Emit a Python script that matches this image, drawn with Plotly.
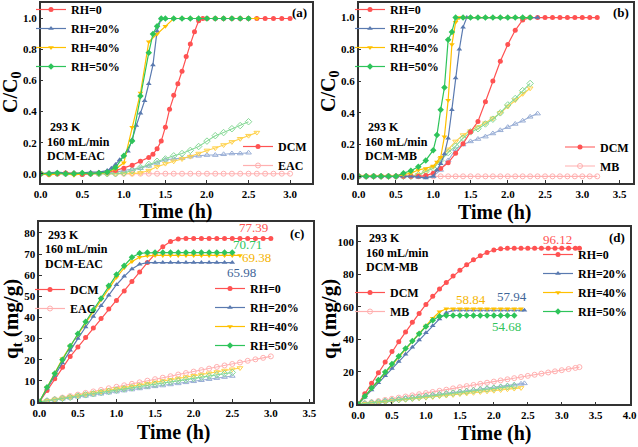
import plotly.graph_objects as go

W, H = 638, 447
FONT = "Liberation Serif"

def PX(x):
    return x / W

def PY(y):
    return 1 - y / H

# ---------------- time grid (h) ----------------
T = [0.0, 0.1, 0.2, 0.3, 0.4, 0.5, 0.6, 0.7, 0.8, 0.9, 1.0, 1.1, 1.2, 1.3, 1.4, 1.5, 1.6,
     1.7, 1.8, 1.9, 2.0, 2.1, 2.2, 2.3, 2.4, 2.5, 2.6, 2.7, 2.8, 2.9, 3.0, 3.1, 3.2]

# ---------------- panel (a) DCM-EAC, C/C0 ----------------
A_T_RH0 = [0.0, 0.1, 0.2, 0.3, 0.4, 0.5, 0.6, 0.7, 0.8, 0.9, 1.0, 1.1, 1.2, 1.3,
           1.35, 1.4, 1.45, 1.5, 1.55, 1.6, 1.65, 1.7, 1.75, 1.8, 1.85, 1.9, 1.95,
           2.0, 2.1, 2.2, 2.3, 2.4, 2.5, 2.6, 2.7, 2.8, 2.9, 3.0]
A_DCM_RH0 = [0, -0.005, 0, 0.005, 0, -0.005, 0, 0.005, 0.01, 0.02, 0.035, 0.055, 0.08, 0.105,
             0.125, 0.16, 0.21, 0.30, 0.415, 0.505, 0.58, 0.66, 0.755, 0.835, 0.915, 0.985, 1.0,
             1.0, 1.0, 1.0, 1.0, 1.0, 1.0, 1.0, 1.0, 1.0, 1.0, 1.0]
A_T_RH20 = [0.0, 0.1, 0.2, 0.3, 0.4, 0.5, 0.6, 0.7, 0.8,
            0.85, 0.9, 0.95, 1.0, 1.05, 1.1, 1.15, 1.2, 1.25, 1.3, 1.35, 1.4, 1.45, 1.5,
            1.6, 1.7, 1.8, 1.9, 2.0, 2.1, 2.2, 2.3, 2.4, 2.5]
A_DCM_RH20 = [0, 0.005, 0.01, 0.005, 0, 0.005, 0.01, 0.01, 0.02,
              0.035, 0.06, 0.09, 0.115, 0.145, 0.22, 0.31, 0.39, 0.47, 0.58, 0.70, 0.92, 1.0, 1.0,
              1.0, 1.0, 1.0, 1.0, 1.0, 1.0, 1.0, 1.0, 1.0, 1.0]
A_T_RH40 = [0.0, 0.1, 0.2, 0.3, 0.4, 0.5, 0.6, 0.7, 0.8,
            0.9, 1.0, 1.1, 1.2, 1.3, 1.4, 1.5, 1.6,
            1.7, 1.8, 1.9, 2.0, 2.1, 2.2, 2.3, 2.4, 2.5, 2.6]
A_DCM_RH40 = [0, -0.01, 0, 0, -0.01, 0, 0, 0, 0.01,
              0.03, 0.07, 0.30, 0.52, 0.85, 0.90, 0.95, 1.0,
              1.0, 1.0, 1.0, 1.0, 1.0, 1.0, 1.0, 1.0, 1.0, 1.0]
A_T_RH50 = [0.0, 0.1, 0.2, 0.3, 0.4, 0.5, 0.6, 0.7, 0.8,
            0.9, 1.0, 1.1, 1.2, 1.3, 1.35, 1.4, 1.45,
            1.5, 1.6, 1.7, 1.8, 1.9, 2.0, 2.1, 2.2, 2.3, 2.4, 2.5]
A_DCM_RH50 = [0, 0, 0.005, 0, 0, 0.005, 0, 0.005, 0.01,
              0.04, 0.115, 0.21, 0.50, 0.78, 0.90, 0.95, 1.0,
              1.0, 1.0, 1.0, 1.0, 1.0, 1.0, 1.0, 1.0, 1.0, 1.0, 1.0]
A_EAC_RH0 = [0, 0, 0, 0, 0, 0, 0, 0, 0, 0, 0, 0, 0, 0, 0, 0, 0, 0, 0, 0, 0, 0, 0, 0, 0, 0,
             0, 0, 0, 0, 0]
A_EAC_RH20 = [0, 0, 0.005, 0, 0.005, 0, 0.005, 0, 0.005, 0.01,
              0.02, 0.03, 0.035, 0.05, 0.07, 0.09, 0.095, 0.10, 0.11, 0.115, 0.12, 0.12, 0.125,
              0.13, 0.13, 0.135]
A_EAC_RH40 = [0, 0, 0, 0, 0, 0, 0, 0, 0, 0, 0, 0, 0.005,
              0.02, 0.045, 0.065, 0.08, 0.095, 0.11, 0.13, 0.15, 0.165, 0.185, 0.205, 0.225,
              0.245, 0.265]
A_EAC_RH50 = [0, 0, 0, 0, 0, 0, 0, 0, 0, 0, 0.005,
              0.02, 0.04, 0.06, 0.08, 0.095, 0.115, 0.13, 0.15, 0.175, 0.21, 0.245, 0.265,
              0.29, 0.31, 0.335]

# ---------------- panel (b) DCM-MB, C/C0 ----------------
B_DCM_RH0 = [0, 0, 0, 0, 0, 0, 0, 0, 0, 0.005,
             0.02, 0.05, 0.085, 0.145, 0.205, 0.28, 0.345, 0.47, 0.60, 0.725, 0.83, 0.92, 0.985,
             1.0, 1.0, 1.0, 1.0, 1.0, 1.0, 1.0, 1.0, 1.0, 1.0]
B_T_RH20 = [0.0, 0.1, 0.2, 0.3, 0.4, 0.5, 0.6, 0.7, 0.8, 0.9, 1.0,
            1.05, 1.1, 1.15, 1.2, 1.25, 1.3, 1.35, 1.4, 1.45,
            1.5, 1.6, 1.7, 1.8, 1.9, 2.0, 2.1, 2.2, 2.3, 2.4]
B_DCM_RH20 = [0, 0, 0, 0, 0, 0, 0, 0, -0.005, -0.01, 0.0,
              0.04, 0.08, 0.14, 0.24, 0.42, 0.62, 0.80, 0.94, 1.0,
              1.0, 1.0, 1.0, 1.0, 1.0, 1.0, 1.0, 1.0, 1.0, 1.0]
B_T_RH40 = [0.0, 0.1, 0.2, 0.3, 0.4, 0.5, 0.6, 0.7, 0.8, 0.9,
            1.0, 1.05, 1.1, 1.15, 1.2, 1.25, 1.3, 1.35,
            1.4, 1.5, 1.6, 1.7, 1.8, 1.9, 2.0, 2.1, 2.2, 2.3]
B_DCM_RH40 = [0, 0, 0, 0, 0, 0, 0.01, 0.02, 0.04, 0.05,
              0.065, 0.09, 0.12, 0.25, 0.48, 0.83, 0.97, 1.0,
              1.0, 1.0, 1.0, 1.0, 1.0, 1.0, 1.0, 1.0, 1.0, 1.0]
B_T_RH50 = [0.0, 0.1, 0.2, 0.3, 0.4, 0.5, 0.6, 0.7, 0.8, 0.9,
            1.0, 1.05, 1.1, 1.15, 1.2, 1.25, 1.3,
            1.4, 1.5, 1.6, 1.7, 1.8, 1.9, 2.0, 2.1, 2.2, 2.3]
B_DCM_RH50 = [0, 0, 0, 0, 0, 0, 0.02, 0.035, 0.06, 0.10,
              0.165, 0.26, 0.42, 0.56, 0.86, 0.91, 1.0,
              1.0, 1.0, 1.0, 1.0, 1.0, 1.0, 1.0, 1.0, 1.0, 1.0]
B_MB_RH0 = [0, 0, 0, 0, 0, 0, 0, 0, 0, 0, 0, 0, 0, 0, 0, 0, 0, 0, 0, 0, 0, 0, 0, 0, 0, 0,
            0, 0, 0, 0, 0, 0, 0]
B_MB_RH20 = [0, 0, 0, 0, 0, 0, 0, 0, 0, -0.005,
             0.0, 0.04, 0.10, 0.17, 0.20, 0.22, 0.235, 0.25, 0.27, 0.29, 0.31, 0.33, 0.35,
             0.375, 0.395]
B_MB_RH40 = [0, 0, 0, 0, 0, 0, 0, 0, 0.01, 0.03,
             0.06, 0.11, 0.17, 0.22, 0.26, 0.285, 0.31, 0.335, 0.365, 0.40, 0.44, 0.48, 0.52,
             0.555]
B_MB_RH50 = [0, 0, 0, 0, 0, 0, 0, 0, 0.01, 0.03,
             0.05, 0.10, 0.15, 0.19, 0.24, 0.28, 0.30, 0.33, 0.36, 0.40, 0.45, 0.49, 0.54,
             0.585]

# ---------------- panel (c) DCM-EAC, q_t ----------------
C_DCM_RH0 = [0, 5.5, 11, 16.5, 21.5, 26, 30.5, 35, 39.5, 44, 48, 52.5, 57, 61.5, 66, 70,
             73.5, 76, 77.2, 77.39, 77.39, 77.39, 77.39, 77.39, 77.39, 77.39, 77.39, 77.39,
             77.39, 77.39, 77.39]
C_DCM_RH20 = [0, 6.5, 12.5, 18.5, 24.5, 30, 35.5, 40.5, 45.5, 50.5, 55.5, 59.5, 63, 65.2,
              65.98, 65.98, 65.98, 65.98, 65.98, 65.98, 65.98, 65.98, 65.98, 65.98, 65.98, 65.98]
C_DCM_RH40 = [0, 7, 13.5, 20.5, 26.5, 32, 37.5, 43, 48.5, 54, 59, 63.5, 66.5, 68.5, 69.2,
              69.38, 69.38, 69.38, 69.38, 69.38, 69.38, 69.38, 69.38, 69.38, 69.38, 69.38, 69.38]
C_DCM_RH50 = [0, 7, 13.5, 20, 26.5, 32.3, 38, 43.5, 49, 55, 60.3, 64.5, 68.5, 70.4,
              70.71, 70.71, 70.71, 70.71, 70.71, 70.71, 70.71, 70.71, 70.71, 70.71, 70.71, 70.71]
C_EAC_RH0 = [0, 0.6, 1.3, 2.1, 2.8, 3.5, 4.3, 5.0, 5.7, 6.5, 7.2, 7.9, 8.6, 9.3, 10.1, 10.8,
             11.5, 12.2, 13.0, 13.7, 14.4, 15.1, 15.8, 16.6, 17.3, 18.0, 18.7, 19.5, 20.2,
             20.9, 21.6]
C_EAC_RH20 = [0, 0.5, 1.0, 1.5, 2.0, 2.5, 2.9, 3.4, 3.9, 4.4, 4.9, 5.4, 5.9, 6.4, 6.9, 7.4,
              7.8, 8.3, 8.8, 9.3, 9.8, 10.3, 10.8, 11.3, 11.8, 12.3]
C_EAC_RH40 = [0, 0.5, 1.2, 1.8, 2.4, 3.1, 3.7, 4.3, 4.9, 5.6, 6.2, 6.8, 7.4, 8.0, 8.7, 9.3,
              9.9, 10.5, 11.1, 11.8, 12.4, 13.0, 13.6, 14.2, 14.9, 15.5, 16.1]
C_EAC_RH50 = [0, 0.5, 1.1, 1.7, 2.2, 2.8, 3.4, 3.9, 4.5, 5.0, 5.6, 6.2, 6.7, 7.3, 7.8, 8.4,
              9.0, 9.5, 10.1, 10.6, 11.2, 11.8, 12.3, 12.9, 13.4, 14.0]

# ---------------- panel (d) DCM-MB, q_t ----------------
D_T_RH0 = T + [3.26]
D_DCM_RH0 = [0, 6.5, 13, 19.5, 26, 32.5, 38.5, 44.5, 50.5, 56, 61.5, 66.5, 71, 75, 79, 82.5,
             86, 89, 91.5, 93.5, 95, 95.8, 96.12, 96.12, 96.12, 96.12, 96.12, 96.12, 96.12,
             96.12, 96.12, 96.12, 96.12, 96.12]
D_T_RH20 = T[:25] + [2.45]
D_DCM_RH20 = [0, 4.4, 8.8, 13.2, 17.6, 22, 26.4, 30.8, 35.2, 39.6, 44, 48.4, 52.6, 56.4, 57.94,
              57.94, 57.94, 57.94, 57.94, 57.94, 57.94, 57.94, 57.94, 57.94, 57.94, 57.94]
D_DCM_RH40 = [0, 4.9, 9.8, 14.7, 19.6, 24.5, 29.3, 34.1, 38.9, 43.6, 48.3, 53, 57, 58.84,
              58.84, 58.84, 58.84, 58.84, 58.84, 58.84, 58.84, 58.84, 58.84, 58.84, 58.84]
D_DCM_RH50 = [0, 5.0, 10.0, 15.0, 19.9, 24.8, 29.6, 34.3, 39, 43.5, 47.9, 51.8, 54.3, 54.68,
              54.68, 54.68, 54.68, 54.68, 54.68, 54.68, 54.68, 54.68, 54.68, 54.68]
D_MB_RH0 = [0, 0.6, 1.3, 2.0, 2.7, 3.4, 4.1, 4.8, 5.5, 6.2, 6.9, 7.6, 8.3, 9.0, 9.8, 10.5,
            11.2, 11.9, 12.6, 13.3, 14.0, 14.7, 15.4, 16.1, 16.8, 17.5, 18.2, 18.9, 19.6,
            20.3, 21.0, 21.7, 22.4, 22.9]
D_MB_RH20 = [0, 0.4, 0.9, 1.4, 1.9, 2.5, 3.0, 3.5, 4.1, 4.6, 5.2, 5.7, 6.2, 6.8, 7.3, 7.8,
             8.4, 8.9, 9.4, 10.0, 10.5, 11.0, 11.6, 12.1, 12.6, 12.9]
D_MB_RH40 = [0, 0.3, 0.7, 1.1, 1.5, 2.0, 2.4, 2.8, 3.3, 3.7, 4.1, 4.5, 5.0, 5.4, 5.8, 6.3,
             6.7, 7.1, 7.6, 8.0, 8.4, 8.8, 9.3, 9.7, 10.1]
D_MB_RH50 = [0, 0.4, 0.9, 1.4, 1.9, 2.4, 2.9, 3.4, 3.9, 4.4, 4.9, 5.4, 5.9, 6.4, 6.9, 7.4,
             7.9, 8.4, 8.9, 9.4, 9.9, 10.4, 10.9, 11.3]

RH_NAMES = ["RH=0", "RH=20%", "RH=40%", "RH=50%"]
C_LABELS = ["77.39", "65.98", "69.38", "70.71"]
D_LABELS = ["96.12", "57.94", "58.84", "54.68"]

# ---------------- style ----------------
COL = ["#FF5252", "#5A7AB0", "#FFC000", "#2EC45A"]
COL_L = ["#FFB0B0", "#9AAFD6", "#FFD24D", "#86D996"]
TXT_COL = ["#FF5252", "#3E6598", "#F5B400", "#2EC45A"]
SYM = ["circle", "triangle-up", "triangle-down", "diamond"]
SYM_O = ["circle-open", "triangle-up-open", "triangle-down-open", "diamond-open"]

fig = go.Figure()


def solid(xa, ya, t, y, i, legend):
    fig.add_trace(go.Scatter(
        x=t, y=y, mode="lines+markers", name=RH_NAMES[i], legend=legend,
        xaxis=xa, yaxis=ya, line=dict(color=COL[i], width=1.2),
        marker=dict(symbol=SYM[i], size=5, color=COL[i], line=dict(width=0))))


def hollow(xa, ya, t, y, i):
    fig.add_trace(go.Scatter(
        x=t, y=y, mode="lines+markers", showlegend=False,
        xaxis=xa, yaxis=ya, line=dict(color=COL_L[i], width=1.1),
        marker=dict(symbol=SYM_O[i], size=5, color=COL_L[i], line=dict(width=1))))


def key(xa, ya, names, legend):
    fig.add_trace(go.Scatter(
        x=[None], y=[None], mode="lines+markers", name=names[0], legend=legend,
        xaxis=xa, yaxis=ya, line=dict(color=COL[0], width=1.2),
        marker=dict(symbol="circle", size=5, color=COL[0])))
    fig.add_trace(go.Scatter(
        x=[None], y=[None], mode="lines+markers", name=names[1], legend=legend,
        xaxis=xa, yaxis=ya, line=dict(color=COL_L[0], width=1.2),
        marker=dict(symbol="circle-open", size=5, color=COL_L[0], line=dict(width=1))))


# panel (a)
hollow("x", "y", T[:31], A_EAC_RH0, 0)
hollow("x", "y", T[:26], A_EAC_RH20, 1)
hollow("x", "y", T[:27], A_EAC_RH40, 2)
hollow("x", "y", T[:26], A_EAC_RH50, 3)
solid("x", "y", A_T_RH0, A_DCM_RH0, 0, "legend")
solid("x", "y", A_T_RH20, A_DCM_RH20, 1, "legend")
solid("x", "y", A_T_RH40, A_DCM_RH40, 2, "legend")
solid("x", "y", A_T_RH50, A_DCM_RH50, 3, "legend")
key("x", "y", ["DCM", "EAC"], "legend2")

# panel (b)
hollow("x2", "y2", T[:33], B_MB_RH0, 0)
hollow("x2", "y2", T[:25], B_MB_RH20, 1)
hollow("x2", "y2", T[:24], B_MB_RH40, 2)
hollow("x2", "y2", T[:24], B_MB_RH50, 3)
solid("x2", "y2", T[:33], B_DCM_RH0, 0, "legend3")
solid("x2", "y2", B_T_RH20, B_DCM_RH20, 1, "legend3")
solid("x2", "y2", B_T_RH40, B_DCM_RH40, 2, "legend3")
solid("x2", "y2", B_T_RH50, B_DCM_RH50, 3, "legend3")
key("x2", "y2", ["DCM", "MB"], "legend4")

# panel (c)
hollow("x3", "y3", T[:31], C_EAC_RH0, 0)
hollow("x3", "y3", T[:26], C_EAC_RH20, 1)
hollow("x3", "y3", T[:27], C_EAC_RH40, 2)
hollow("x3", "y3", T[:26], C_EAC_RH50, 3)
key("x3", "y3", ["DCM", "EAC"], "legend5")
solid("x3", "y3", T[:31], C_DCM_RH0, 0, "legend6")
solid("x3", "y3", T[:26], C_DCM_RH20, 1, "legend6")
solid("x3", "y3", T[:27], C_DCM_RH40, 2, "legend6")
solid("x3", "y3", T[:26], C_DCM_RH50, 3, "legend6")

# panel (d)
hollow("x4", "y4", D_T_RH0, D_MB_RH0, 0)
hollow("x4", "y4", D_T_RH20, D_MB_RH20, 1)
hollow("x4", "y4", T[:25], D_MB_RH40, 2)
hollow("x4", "y4", T[:24], D_MB_RH50, 3)
key("x4", "y4", ["DCM", "MB"], "legend7")
solid("x4", "y4", D_T_RH0, D_DCM_RH0, 0, "legend8")
solid("x4", "y4", D_T_RH20, D_DCM_RH20, 1, "legend8")
solid("x4", "y4", T[:25], D_DCM_RH40, 2, "legend8")
solid("x4", "y4", T[:24], D_DCM_RH50, 3, "legend8")


def axis(domain, rng, dtick, fmt, anchor):
    return dict(domain=domain, range=rng, dtick=dtick, tick0=0, tickformat=fmt,
                anchor=anchor, showgrid=False, zeroline=False, showline=True,
                linecolor="#333333", linewidth=1.5, mirror=True, ticks="inside",
                ticklen=3, tickwidth=1.2, tickcolor="#333333",
                tickfont=dict(family=FONT, size=11, color="black", weight="bold"))


def legend(xpx, ypx):
    return dict(x=PX(xpx), y=PY(ypx), xanchor="left", yanchor="top",
                bgcolor="rgba(0,0,0,0)", borderwidth=0, tracegroupgap=0,
                font=dict(family=FONT, size=12, color="black", weight="bold"))


fig.update_layout(
    width=W, height=H, margin=dict(l=0, r=0, t=0, b=0, autoexpand=False),
    paper_bgcolor="white", plot_bgcolor="white",
    xaxis=axis([PX(40.7), PX(311.7)], [0, 3.26], 0.5, ".1f", "y"),
    yaxis=axis([PY(183), PY(3)], [-0.06, 1.1], 0.2, ".1f", "x"),
    xaxis2=axis([PX(358.7), PX(633)], [0, 3.68], 0.5, ".1f", "y2"),
    yaxis2=axis([PY(183), PY(3)], [-0.042, 1.092], 0.2, ".1f", "x2"),
    xaxis3=axis([PX(39.3), PX(313.3)], [0, 3.55], 0.5, ".1f", "y3"),
    yaxis3=axis([PY(402), PY(222)], [0, 85.2], 10, "d", "x3"),
    xaxis4=axis([PX(358), PX(629.7)], [0, 4.0], 0.5, ".1f", "y4"),
    yaxis4=axis([PY(404.3), PY(227)], [0, 109.2], 20, "d", "x4"),
    legend=legend(31, -5),
    legend2=legend(238, 132),
    legend3=legend(350, -5),
    legend4=legend(560, 132.5),
    legend5=legend(30, 275),
    legend6=legend(210, 274),
    legend7=legend(350, 278),
    legend8=legend(538, 240),
)

ann = []


def text(xpx, ypx, s, size=12, color="black", xanchor="left", bold=True, angle=0):
    ann.append(dict(x=PX(xpx), y=PY(ypx), xref="paper", yref="paper", text=s,
                    showarrow=False, xanchor=xanchor, yanchor="middle", textangle=angle,
                    font=dict(family=FONT, size=size, color=color,
                              weight="bold" if bold else "normal")))


# info blocks
for (x0, y0, sys_name) in [(45, 127, "DCM-EAC"), (363, 127, "DCM-MB"),
                           (42.7, 234.7, "DCM-EAC"), (364, 238, "DCM-MB")]:
    text(x0 + 3, y0, "293 K")
    text(x0, y0 + 14.5, "160 mL/min")
    text(x0, y0 + 29, sys_name)

# panel tags
text(299, 13, "(a)", size=13, xanchor="center")
text(621, 13, "(b)", size=13, xanchor="center")
text(297, 233, "(c)", size=13, xanchor="center")
text(617, 237, "(d)", size=13, xanchor="center")

# axis titles
for cx, cy in [(176, 211), (494.7, 212), (174, 432), (494.7, 433.5)]:
    text(cx, cy, "Time (h)", size=20, xanchor="center")
text(11, 93, "C/C<sub>0</sub>", size=20, xanchor="center", angle=-90)
text(329, 92, "C/C<sub>0</sub>", size=20, xanchor="center", angle=-90)
text(12, 319, "q<sub>t</sub> (mg/g)", size=21, xanchor="center", angle=-90)
text(330, 319, "q<sub>t</sub> (mg/g)", size=21, xanchor="center", angle=-90)

# capacity labels (data coordinates)
C_POS = [(2.78, 82.4), (2.62, 61.3), (2.82, 68.4), (2.70, 74.6)]
D_POS = [(2.94, 101.2), (2.27, 66.7), (1.67, 64.3), (2.19, 47.8)]
for i in range(4):
    ann.append(dict(x=C_POS[i][0], y=C_POS[i][1], xref="x3", yref="y3", text=C_LABELS[i],
                    showarrow=False, font=dict(family=FONT, size=13, color=TXT_COL[i])))
    ann.append(dict(x=D_POS[i][0], y=D_POS[i][1], xref="x4", yref="y4", text=D_LABELS[i],
                    showarrow=False, font=dict(family=FONT, size=13, color=TXT_COL[i])))

fig.update_layout(annotations=ann)
fig.write_html("out.html", config={"displayModeBar": False},
               post_script="document.body.style.margin='0';document.body.style.overflow='hidden';")
